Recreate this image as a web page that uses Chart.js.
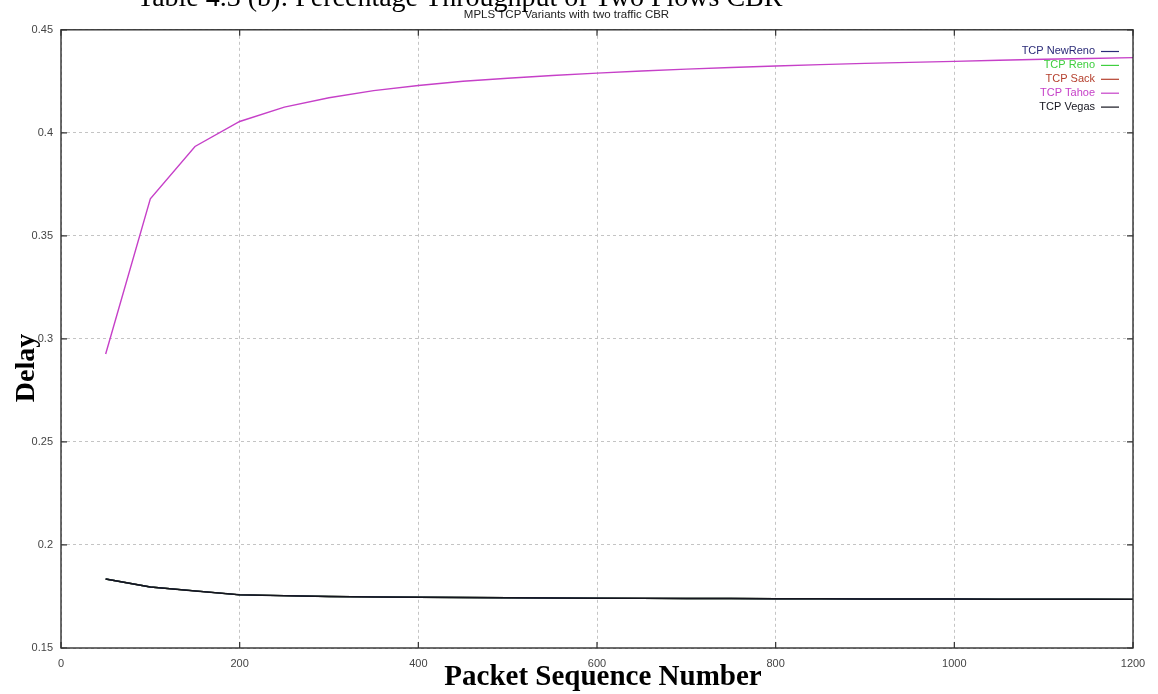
<!DOCTYPE html>
<html>
<head>
<meta charset="utf-8">
<script src="https://cdn.jsdelivr.net/npm/chart.js@4/dist/chart.umd.min.js"></script>
<style>
    html, body { margin: 0; padding: 0; background: #fff; }
    #wrap { position: relative; width: 1158px; height: 694px; }
</style>
</head>
<body>
<div id="wrap"><canvas id="delayChart" width="1158" height="694"></canvas></div>
<script>
// Packet sequence numbers (x) and end-to-end delay per TCP variant.
const seqNumbers = [50, 100, 150, 200, 250, 300, 350, 400, 450, 500, 550, 600,
                    650, 700, 750, 800, 850, 900, 950, 1000, 1050, 1100, 1150, 1200];
const tahoeDelay = [0.2927, 0.3680, 0.3934, 0.4055, 0.4125, 0.4170, 0.4205, 0.4230,
                    0.4250, 0.4265, 0.4278, 0.4290, 0.4300, 0.4309, 0.4317, 0.4324,
                    0.4331, 0.4337, 0.4342, 0.4347, 0.4352, 0.4357, 0.4361, 0.4365];
const vegasDelay = [0.1835, 0.1796, 0.1777, 0.1758, 0.1754, 0.1750, 0.1748, 0.1746,
                    0.1745, 0.1744, 0.1743, 0.1742, 0.1741, 0.1740, 0.1740, 0.1739,
                    0.1739, 0.1738, 0.1738, 0.1738, 0.1737, 0.1737, 0.1737, 0.1736];
// NewReno, Reno and Sack overlap the Vegas curve and are hidden beneath it.
const newRenoDelay = vegasDelay;
const renoDelay = vegasDelay;
const sackDelay = vegasDelay;

const variantNames = ['TCP NewReno', 'TCP Reno', 'TCP Sack', 'TCP Tahoe', 'TCP Vegas'];
const xTicks = [0, 200, 400, 600, 800, 1000, 1200];
const yTicks = [0.15, 0.2, 0.25, 0.3, 0.35, 0.4, 0.45];

const colors = {
    'TCP NewReno': '#2b2b78',
    'TCP Reno': '#3fcf3f',
    'TCP Sack': '#b5402e',
    'TCP Tahoe': '#c640c8',
    'TCP Vegas': '#15151f'
};

function series(values) {
    return seqNumbers.map((x, i) => ({ x: x, y: values[i] }));
}

const seriesData = [newRenoDelay, renoDelay, sackDelay, tahoeDelay, vegasDelay];

// gnuplot-style frame: dark box with inward ticks on all four sides.
const framePlugin = {
    id: 'frame',
    afterDatasetsDraw(chart) {
        const { ctx, chartArea: a, scales } = chart;
        ctx.save();
        ctx.strokeStyle = '#303030';
        ctx.lineWidth = 1.4;
        ctx.strokeRect(a.left, a.top, a.right - a.left, a.bottom - a.top);
        ctx.lineWidth = 1.2;
        ctx.beginPath();
        xTicks.forEach(v => {
            const px = scales.x.getPixelForValue(v);
            ctx.moveTo(px, a.bottom); ctx.lineTo(px, a.bottom - 6);
            ctx.moveTo(px, a.top); ctx.lineTo(px, a.top + 6);
        });
        yTicks.forEach(v => {
            const py = scales.y.getPixelForValue(v);
            ctx.moveTo(a.left, py); ctx.lineTo(a.left + 6, py);
            ctx.moveTo(a.right, py); ctx.lineTo(a.right - 6, py);
        });
        ctx.stroke();
        ctx.restore();
    }
};

// Legend in the upper right: right-aligned label followed by a short line sample.
const keyPlugin = {
    id: 'key',
    afterDraw(chart) {
        const ctx = chart.ctx;
        ctx.save();
        ctx.font = '11px "Liberation Sans", Arial, sans-serif';
        ctx.textAlign = 'right';
        ctx.textBaseline = 'middle';
        chart.data.datasets.forEach((ds, i) => {
            const y = 51 + i * 13.9;
            ctx.fillStyle = ds.borderColor;
            ctx.fillText(ds.label, 1095, y);
            ctx.strokeStyle = ds.borderColor;
            ctx.lineWidth = 1.2;
            ctx.beginPath();
            ctx.moveTo(1101, y + 0.5);
            ctx.lineTo(1119, y + 0.5);
            ctx.stroke();
        });
        ctx.restore();
    }
};

// Page caption (cut by the top edge) and the bold axis titles.
const labelsPlugin = {
    id: 'labels',
    afterDraw(chart) {
        const ctx = chart.ctx;
        ctx.save();
        ctx.fillStyle = '#000';
        ctx.textBaseline = 'alphabetic';
        ctx.textAlign = 'left';
        ctx.font = '28px "Liberation Serif", "Times New Roman", serif';
        ctx.fillText('Table 4.3 (b): Percentage Throughput of Two Flows CBR', 137, 6);

        ctx.font = 'bold 29px "Liberation Serif", "Times New Roman", serif';
        ctx.textAlign = 'center';
        ctx.fillText('Packet Sequence Number', 603, 685);

        ctx.font = 'bold 28px "Liberation Serif", "Times New Roman", serif';
        ctx.translate(34, 368);
        ctx.rotate(-Math.PI / 2);
        ctx.fillText('Delay', 0, 0);
        ctx.restore();
    }
};

new Chart(document.getElementById('delayChart').getContext('2d'), {
    type: 'line',
    data: {
        datasets: variantNames.map((name, i) => ({
            label: name,
            data: series(seriesData[i]),
            borderColor: colors[name],
            backgroundColor: colors[name],
            borderWidth: name === 'TCP Vegas' ? 1.5 : 1.4,
            pointRadius: 0,
            tension: 0,
            order: (name === 'TCP Tahoe' || name === 'TCP Vegas') ? 0 : 1
        }))
    },
    options: {
        responsive: false,
        animation: false,
        layout: { padding: { left: 0, right: 25, top: 0, bottom: 0 } },
        plugins: {
            legend: { display: false },
            tooltip: { enabled: false },
            title: {
                display: true,
                text: 'MPLS TCP Variants with two traffic CBR',
                color: '#222',
                font: { family: '"Liberation Sans", Arial, sans-serif', size: 11.5, weight: 'normal' },
                padding: { top: 8, bottom: 8 }
            }
        },
        scales: {
            x: {
                type: 'linear',
                min: 0,
                max: 1200,
                afterFit: s => { s.height = 46; },
                afterBuildTicks: s => { s.ticks = xTicks.map(v => ({ value: v })); },
                grid: { color: '#c4c4c4', lineWidth: 1, drawTicks: false },
                border: { display: false, dash: [3, 3] },
                ticks: {
                    padding: 9,
                    color: '#444',
                    font: { family: '"Liberation Sans", Arial, sans-serif', size: 11 },
                    callback: v => String(v)
                }
            },
            y: {
                min: 0.15,
                max: 0.45,
                afterFit: s => { s.width = 61; },
                afterBuildTicks: s => { s.ticks = yTicks.map(v => ({ value: v })); },
                grid: { color: '#c4c4c4', lineWidth: 1, drawTicks: false },
                border: { display: false, dash: [3, 3] },
                ticks: {
                    padding: 8,
                    color: '#444',
                    font: { family: '"Liberation Sans", Arial, sans-serif', size: 11 },
                    callback: v => String(Number(v.toFixed(2)))
                }
            }
        }
    },
    plugins: [framePlugin, keyPlugin, labelsPlugin]
});
</script>
</body>
</html>
